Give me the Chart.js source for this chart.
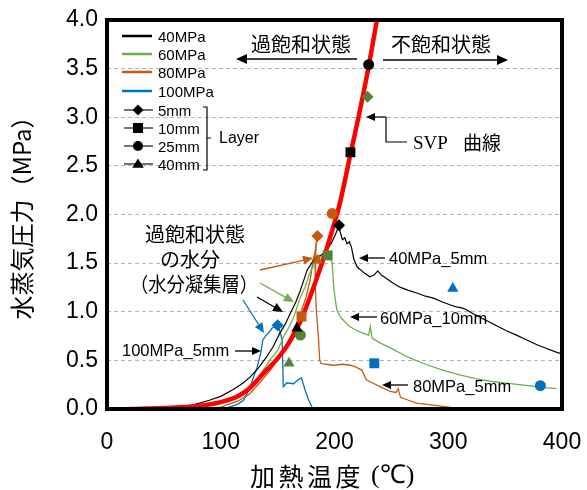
<!DOCTYPE html>
<html>
<head>
<meta charset="utf-8">
<script src="https://cdn.jsdelivr.net/npm/chart.js@4/dist/chart.umd.min.js"></script>
<style>
  html, body { margin: 0; padding: 0; background: #fff; }
  #c { display: block; }
</style>
</head>
<body>
<canvas id="c" width="587" height="490"></canvas>
<script>
// SVP 曲線
const svpT = [20, 50, 80, 100, 115, 125, 137, 150, 160, 170, 180, 189, 196, 205, 214, 222, 230, 237, 241];
const svpP = [0.00, 0.01, 0.03, 0.07, 0.13, 0.21, 0.36, 0.52, 0.68, 0.90, 1.20, 1.50, 1.76, 2.13, 2.62, 3.05, 3.52, 3.98, 4.25];

// 40MPa_5mm
const t40 = [50, 75, 90, 100, 111, 120, 126, 133, 140, 146, 152, 157, 161, 166, 170, 176, 181, 184, 188, 193, 197, 201, 204, 205, 207, 209, 211, 213, 215, 217, 220, 226, 231, 235, 238, 241, 246, 252, 258, 265, 273, 280, 287, 295, 302, 307, 312, 316, 322, 330, 337, 345, 352, 360, 369, 378, 387, 396, 400];
const p40 = [0.01, 0.04, 0.09, 0.13, 0.20, 0.27, 0.33, 0.42, 0.53, 0.64, 0.78, 0.88, 0.98, 1.10, 1.22, 1.43, 1.52, 1.56, 1.58, 1.63, 1.70, 1.80, 1.89, 1.82, 1.74, 1.76, 1.70, 1.72, 1.66, 1.54, 1.46, 1.40, 1.36, 1.38, 1.42, 1.38, 1.34, 1.29, 1.25, 1.22, 1.19, 1.16, 1.14, 1.10, 1.07, 1.05, 1.04, 1.02, 0.98, 0.93, 0.89, 0.84, 0.80, 0.76, 0.71, 0.66, 0.62, 0.58, 0.57];

// 60MPa_10mm
const t60 = [60, 90, 111, 122, 132, 143, 150, 155, 160, 164, 170, 174, 178, 182, 187, 191, 194, 196, 198, 199, 200, 202, 205, 208, 213, 219, 225, 230, 231.5, 233, 240, 252, 265, 280, 295, 310, 325, 340, 355, 370, 385, 395];
const p60 = [0.00, 0.04, 0.12, 0.20, 0.30, 0.50, 0.60, 0.74, 0.84, 0.94, 1.15, 1.25, 1.39, 1.48, 1.56, 1.58, 1.60, 1.57, 1.50, 1.30, 1.19, 1.02, 0.95, 0.91, 0.85, 0.81, 0.78, 0.76, 0.85, 0.73, 0.68, 0.61, 0.53, 0.46, 0.40, 0.35, 0.31, 0.28, 0.26, 0.24, 0.22, 0.21];

// 80MPa_5mm
const t80 = [80, 100, 115, 125, 135, 145, 155, 163, 170, 175, 179, 181, 183, 184, 184.5, 183.5, 183, 184, 186, 187, 188, 192, 199, 207, 214, 219, 224, 228, 233, 240, 249, 254, 256, 258, 265, 272, 287, 300, 310, 320];
const p80 = [0.00, 0.02, 0.08, 0.15, 0.28, 0.42, 0.60, 0.78, 0.98, 1.15, 1.35, 1.52, 1.62, 1.72, 1.78, 1.60, 1.30, 1.02, 0.71, 0.50, 0.47, 0.46, 0.45, 0.46, 0.45, 0.43, 0.40, 0.30, 0.27, 0.23, 0.18, 0.17, 0.21, 0.12, 0.09, 0.06, 0.04, 0.02, 0.00, -0.02];

// 100MPa_5mm
const t100 = [70, 85, 95, 102, 110, 115, 120, 125, 128, 132, 135, 137, 140, 142, 145, 148, 150, 152, 154, 155, 158, 164, 168, 171, 174, 177, 181];
const p100 = [0.00, -0.01, 0.00, 0.00, 0.03, 0.05, 0.09, 0.20, 0.30, 0.43, 0.57, 0.71, 0.76, 0.78, 0.83, 0.85, 0.86, 0.80, 0.71, 0.23, 0.27, 0.26, 0.30, 0.32, 0.20, 0.10, 0.00];

// Layer 測定点（5mm, 10mm, 25mm, 40mm の順）
const layers = ["5mm", "10mm", "25mm", "40mm"];
const m40T = [204, 214, 230, 167];
const m40P = [1.89, 2.64, 3.54, 0.83];
const m60T = [229, 194, 170, 160];
const m60P = [3.21, 1.58, 0.76, 0.47];
const m80T = [185, 171, 198, 185];
const m80P = [1.78, 0.95, 2.01, 1.53];
const m100T = [150, 235, 381, 304];
const m100P = [0.86, 0.47, 0.24, 1.24];

const xTicks = [0, 100, 200, 300, 400];
const yTicks = [0, 0.5, 1.0, 1.5, 2.0, 2.5, 3.0, 3.5, 4.0];

const BLACK = "#000000", GREEN = "#70AD47", GREEN_M = "#548235";
const ORANGE = "#C55A11", BLUE = "#0070C0", RED = "#FF0000";
const SANS = "'Liberation Sans', Arial, sans-serif";
const JP = "'Noto Sans CJK JP', sans-serif";
const SERIF = "'Liberation Serif', 'Times New Roman', serif";

const styles = ["rectRot", "rect", "circle", "triangle"];
const radii = [6, 7, 5.5, 6.5];

function pts(xs, ys) { return xs.map((x, i) => ({ x: x, y: ys[i] })); }

function lineSet(label, xs, ys, color, w) {
  return { label: label, data: pts(xs, ys), showLine: true, borderColor: color, borderWidth: w,
           pointRadius: 0, fill: false, order: 2 };
}
function markSet(label, xs, ys, color) {
  return { label: label, data: pts(xs, ys), showLine: false, pointStyle: styles, pointRadius: radii,
           pointBackgroundColor: color, pointBorderColor: color, pointBorderWidth: 0, order: 0 };
}

function arrow(ctx, x1, y1, x2, y2, color, lw, head) {
  head = head || 9;
  const a = Math.atan2(y2 - y1, x2 - x1);
  ctx.save();
  ctx.strokeStyle = color; ctx.fillStyle = color; ctx.lineWidth = lw;
  ctx.beginPath();
  ctx.moveTo(x1, y1);
  ctx.lineTo(x2 - Math.cos(a) * head * 0.8, y2 - Math.sin(a) * head * 0.8);
  ctx.stroke();
  ctx.beginPath();
  ctx.moveTo(x2, y2);
  ctx.lineTo(x2 - head * Math.cos(a) + head * 0.45 * Math.sin(a), y2 - head * Math.sin(a) - head * 0.45 * Math.cos(a));
  ctx.lineTo(x2 - head * Math.cos(a) - head * 0.45 * Math.sin(a), y2 - head * Math.sin(a) + head * 0.45 * Math.cos(a));
  ctx.closePath();
  ctx.fill();
  ctx.restore();
}

function marker(ctx, style, x, y, r) {
  ctx.beginPath();
  if (style === "rectRot") {
    ctx.moveTo(x, y - r); ctx.lineTo(x + r, y); ctx.lineTo(x, y + r); ctx.lineTo(x - r, y);
  } else if (style === "rect") {
    ctx.rect(x - r, y - r, 2 * r, 2 * r);
  } else if (style === "circle") {
    ctx.arc(x, y, r, 0, Math.PI * 2);
  } else {
    ctx.moveTo(x, y - r); ctx.lineTo(x + r * 1.05, y + r * 0.7); ctx.lineTo(x - r * 1.05, y + r * 0.7);
  }
  ctx.closePath();
  ctx.fill();
}

const decor = {
  id: "decor",
  afterDraw(chart) {
    const ctx = chart.ctx;
    const a = chart.chartArea;
    ctx.save();

    // 枠
    ctx.strokeStyle = "#000"; ctx.lineWidth = 4;
    ctx.strokeRect(a.left, a.top, a.right - a.left, a.bottom - a.top);

    // 凡例
    const rows = [36, 54, 72, 91, 110, 128, 146, 164];
    const lines = [["40MPa", BLACK], ["60MPa", GREEN], ["80MPa", ORANGE], ["100MPa", BLUE]];
    ctx.textBaseline = "middle"; ctx.textAlign = "left";
    ctx.font = "15px " + SANS; ctx.fillStyle = "#000";
    lines.forEach((l, i) => {
      ctx.strokeStyle = l[1]; ctx.lineWidth = 2.5;
      ctx.beginPath(); ctx.moveTo(122, rows[i]); ctx.lineTo(152, rows[i]); ctx.stroke();
      ctx.fillText(l[0], 158, rows[i] + 2);
    });
    layers.forEach((name, i) => {
      const y = rows[i + 4];
      ctx.strokeStyle = "#444"; ctx.lineWidth = 1.5;
      ctx.beginPath(); ctx.moveTo(124, y); ctx.lineTo(153, y); ctx.stroke();
      ctx.fillStyle = "#000";
      marker(ctx, styles[i], 138, y, [5.5, 5, 5, 5.5][i]);
      ctx.fillText(name, 158, y + 2);
    });
    ctx.strokeStyle = "#000"; ctx.lineWidth = 1.2;
    ctx.beginPath();
    ctx.moveTo(203, 107); ctx.lineTo(207, 107); ctx.lineTo(207, 170); ctx.lineTo(203, 170);
    ctx.moveTo(207, 138); ctx.lineTo(211, 138);
    ctx.stroke();
    ctx.font = "16px " + SANS;
    ctx.fillText("Layer", 219, 139);

    // 状態の注記
    ctx.font = "20px " + JP;
    ctx.fillText("過飽和状態", 251, 44);
    ctx.fillText("不飽和状態", 391, 44);
    arrow(ctx, 357, 59, 236, 59, "#000", 1.5, 11);
    arrow(ctx, 383, 60, 508, 60, "#000", 1.5, 11);

    // SVP 曲線
    ctx.font = "19px " + SERIF;
    ctx.fillText("SVP", 413, 144);
    ctx.font = "19px " + JP;
    ctx.fillText("曲線", 463, 143);
    ctx.strokeStyle = "#000"; ctx.lineWidth = 1.2;
    ctx.beginPath(); ctx.moveTo(407, 142); ctx.lineTo(386, 142); ctx.lineTo(386, 117); ctx.stroke();
    arrow(ctx, 386, 117, 366, 117, "#000", 1.2, 9);

    // 過飽和状態の水分
    ctx.textAlign = "center";
    ctx.font = "20px " + JP;
    ctx.fillText("過飽和状態", 195, 234);
    ctx.fillText("の水分", 190, 259);
    ctx.fillText("（水分凝集層）", 194, 284, 128);
    arrow(ctx, 260, 270, 313, 258, ORANGE, 1.3, 10);
    arrow(ctx, 260, 283, 294, 302, GREEN, 1.3, 10);
    arrow(ctx, 257, 297, 283, 312, "#000", 1.3, 10);
    arrow(ctx, 243, 300, 264, 333, BLUE, 1.3, 10);

    // 系列ラベル
    ctx.textAlign = "left";
    ctx.font = "16.5px " + SANS;
    ctx.fillText("100MPa_5mm", 122, 351);
    arrow(ctx, 235, 351, 261, 351, "#000", 1.3, 9);
    ctx.fillText("40MPa_5mm", 389, 259);
    arrow(ctx, 385, 258, 359, 258, "#000", 1.3, 9);
    ctx.fillText("60MPa_10mm", 380, 319);
    arrow(ctx, 377, 317, 350, 317, "#000", 1.3, 9);
    ctx.fillText("80MPa_5mm", 413, 387);
    arrow(ctx, 408, 385, 382, 385, "#000", 1.3, 9);

    // 軸タイトル
    ctx.font = "25px " + JP;
    ["加", "熱", "温", "度"].forEach((ch, i) => ctx.fillText(ch, 250 + i * 28.5, 476));
    ctx.font = "26px " + SERIF;
    ctx.fillText("(℃)", 371, 476);

    ctx.translate(22, 212);
    ctx.rotate(-Math.PI / 2);
    ctx.textAlign = "center";
    ctx.font = "24px " + JP;
    ctx.fillText("水蒸気圧力（MPa）", 0, 0);
    ctx.restore();
  }
};

new Chart(document.getElementById("c"), {
  type: "scatter",
  data: {
    datasets: [
      markSet("40MPa", m40T, m40P, BLACK),
      markSet("60MPa", m60T, m60P, GREEN_M),
      markSet("80MPa", m80T, m80P, ORANGE),
      markSet("100MPa", m100T, m100P, BLUE),
      Object.assign(lineSet("SVP", svpT, svpP, RED, 4.5), { order: 1, cubicInterpolationMode: "monotone" }),
      lineSet("40MPa_5mm", t40, p40, BLACK, 1.2),
      lineSet("60MPa_10mm", t60, p60, GREEN, 1.3),
      lineSet("80MPa_5mm", t80, p80, ORANGE, 1.3),
      lineSet("100MPa_5mm", t100, p100, BLUE, 1.3)
    ]
  },
  options: {
    responsive: false,
    animation: false,
    devicePixelRatio: 1,
    layout: { padding: { left: 0, top: 20, right: 25, bottom: 0 } },
    plugins: { legend: { display: false }, tooltip: { enabled: false } },
    scales: {
      x: {
        type: "linear", min: 0, max: 400,
        afterBuildTicks: s => { s.ticks = xTicks.map(v => ({ value: v })); },
        afterFit: s => { s.height = 81; s.paddingLeft = 0; s.paddingRight = 0; },
        grid: { display: false },
        border: { display: false },
        ticks: { color: "#000", font: { family: SANS, size: 23 }, padding: 12, maxRotation: 0 }
      },
      y: {
        type: "linear", min: 0, max: 4,
        afterBuildTicks: s => { s.ticks = yTicks.map(v => ({ value: v })); },
        afterFit: s => { s.width = 107; s.paddingTop = 0; s.paddingBottom = 0; },
        grid: { color: "#b4b4b4", lineWidth: 1, drawTicks: false },
        border: { display: false, dash: [4, 3] },
        ticks: { color: "#000", font: { family: SANS, size: 23 }, padding: 9, callback: v => v.toFixed(1) }
      }
    }
  },
  plugins: [decor]
});
</script>
</body>
</html>
